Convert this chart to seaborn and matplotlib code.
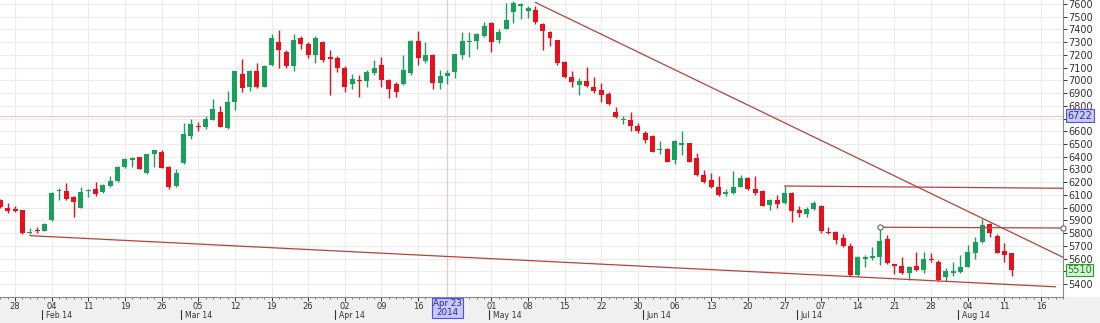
import numpy as np
import pandas as pd
import matplotlib
matplotlib.use("Agg")
import matplotlib.pyplot as plt
import matplotlib.transforms as mtransforms
from matplotlib.patches import Rectangle
import seaborn as sns

# ---------------- data (daily OHLC, Jan 24 2014 .. Aug 12 2014) ----------------
opens = [6060, 6000, 5990, 5980, 5800, 5825, 5820, 5905, 6130, 6130,
         6085, 6000, 6130, 6145, 6120, 6170, 6210, 6320, 6375, 6395,
         6275, 6420, 6440, 6320, 6170, 6350, 6560, 6645, 6630, 6690,
         6750, 6625, 6830, 7050, 6950, 7070, 6950, 7120, 7305, 7225,
         7110, 7330, 7285, 7200, 7305, 7180, 7175, 7095, 6970, 7005,
         6995, 7055, 7120, 7005, 6975, 6970, 7060, 7310, 7155, 7200,
         6980, 7035, 7065, 7200, 7300, 7312, 7350, 7450, 7317, 7405,
         7535, 7580, 7547, 7555, 7440, 7380, 7317, 7145, 7030, 6965,
         6995, 6950, 6925, 6893, 6750, 6685, 6690, 6640, 6585, 6565,
         6450, 6460, 6375, 6495, 6505, 6390, 6255, 6215, 6165, 6110,
         6117, 6165, 6230, 6145, 6133, 6020, 6060, 6040, 6113, 5982,
         5950, 5990, 6010, 5810, 5810, 5760, 5700, 5472, 5600, 5608,
         5615, 5750, 5555, 5545, 5485, 5540, 5510, 5595, 5570, 5452,
         5485, 5498, 5536, 5645, 5733, 5870, 5780, 5660, 5640]
highs = [6070, 6035, 6010, 5985, 5840, 5850, 5880, 6120, 6155, 6195,
         6090, 6165, 6150, 6205, 6185, 6245, 6330, 6390, 6395, 6400,
         6425, 6455, 6450, 6325, 6300, 6665, 6695, 6670, 6720, 6850,
         6800, 6920, 7075, 7165, 7085, 7140, 7120, 7365, 7395, 7240,
         7360, 7345, 7300, 7350, 7310, 7240, 7190, 7110, 7050, 7040,
         7080, 7160, 7180, 7010, 6990, 7200, 7320, 7390, 7305, 7205,
         7080, 7080, 7210, 7380, 7380, 7370, 7460, 7455, 7400, 7605,
         7625, 7610, 7580, 7580, 7450, 7390, 7320, 7150, 7075, 7015,
         7105, 7025, 6980, 6905, 6790, 6720, 6755, 6665, 6600, 6570,
         6520, 6470, 6530, 6600, 6510, 6430, 6295, 6270, 6250, 6150,
         6290, 6260, 6240, 6250, 6140, 6065, 6100, 6170, 6120, 6010,
         6005, 6055, 6020, 5850, 5820, 5790, 5720, 5620, 5630, 5690,
         5845, 5785, 5560, 5615, 5545, 5655, 5655, 5645, 5585, 5525,
         5575, 5628, 5705, 5772, 5910, 5880, 5790, 5720, 5645]
lows = [5995, 5960, 5965, 5795, 5790, 5800, 5815, 5895, 6060, 6060,
        5930, 5995, 6080, 6095, 6115, 6165, 6205, 6310, 6320, 6300,
        6265, 6320, 6310, 6145, 6165, 6345, 6540, 6600, 6620, 6685,
        6630, 6620, 6765, 6910, 6920, 6940, 6945, 7110, 7095, 7095,
        7070, 7250, 7175, 7135, 7145, 6885, 7065, 6910, 6930, 6870,
        6950, 7040, 6945, 6865, 6870, 6960, 7040, 7120, 7140, 6930,
        6930, 6975, 7015, 7170, 7185, 7250, 7340, 7225, 7290, 7400,
        7450, 7485, 7490, 7440, 7235, 7270, 7120, 7015, 6950, 6885,
        6945, 6900, 6830, 6810, 6705, 6660, 6600, 6590, 6510, 6435,
        6425, 6355, 6340, 6415, 6355, 6250, 6195, 6155, 6095, 6090,
        6110, 6160, 6140, 6100, 6010, 5980, 5995, 6030, 5890, 5930,
        5925, 5980, 5800, 5795, 5715, 5690, 5465, 5460, 5535, 5590,
        5550, 5560, 5480, 5480, 5430, 5500, 5490, 5570, 5425, 5425,
        5460, 5490, 5530, 5595, 5725, 5770, 5640, 5575, 5462]
closes = [6005, 5970, 5970, 5800, 5810, 5815, 5875, 6115, 6140, 6065,
          6045, 6125, 6140, 6105, 6180, 6210, 6320, 6380, 6390, 6305,
          6420, 6450, 6315, 6165, 6275, 6580, 6655, 6635, 6695, 6775,
          6635, 6830, 7070, 6940, 7075, 6950, 7110, 7330, 7235, 7110,
          7315, 7285, 7200, 7330, 7160, 7170, 7095, 6950, 7010, 6995,
          7065, 7100, 7005, 6930, 6905, 7080, 7310, 7175, 7200, 6980,
          7035, 7060, 7205, 7310, 7310, 7362, 7430, 7305, 7377, 7475,
          7605, 7600, 7566, 7460, 7390, 7335, 7140, 7025, 6985, 6997,
          6955, 6915, 6885, 6815, 6710, 6695, 6640, 6605, 6535, 6440,
          6458, 6360, 6525, 6505, 6360, 6255, 6205, 6165, 6100, 6120,
          6165, 6235, 6145, 6112, 6015, 6060, 6030, 6113, 5970, 5956,
          5990, 6040, 5820, 5800, 5745, 5700, 5472, 5615, 5615, 5620,
          5740, 5567, 5545, 5485, 5535, 5510, 5595, 5585, 5432, 5502,
          5500, 5536, 5655, 5733, 5864, 5800, 5646, 5628, 5510]

day_tick_labels = ["28", "04", "11", "19", "26", "05", "12", "19", "26", "02",
                   "09", "16", "23", "01", "08", "15", "22", "30", "06", "13",
                   "20", "27", "07", "14", "21", "28", "04", "11", "16"]
month_labels = ["Feb 14", "Mar 14", "Apr 14", "May 14", "Jun 14", "Jul 14", "Aug 14"]
month_first_day = [6, 25, 46, 67, 88, 109, 131]   # bar index of first session

# drawn studies: (start bar, start price, end bar, end price)
support_line = (4, 5780, 144, 5378)
resistance_line = (73, 7612, 145, 5610)
level_6170 = (107, 6170, 145, 6152)
level_5845 = (120, 5846, 145, 5840)
crosshair_bar, crosshair_price, crosshair_label = 61, 6722, "Apr 23\n2014"
last_price = 5510

# ---------------- figure ----------------
sns.set_theme(style="white")
plt.rcParams["font.family"] = ["DejaVu Sans"]

W, H = 1100, 323
fig = plt.figure(figsize=(W / 100, H / 100), dpi=100)
fig.patch.set_facecolor("white")
fig.add_artist(Rectangle((0, 0), 1, 26 / H, transform=fig.transFigure,
                         facecolor="#f0f0f0", edgecolor="none", zorder=-5))
ax = fig.add_axes([0, 26 / H, 1063 / W, 1 - 26 / H])
ax.set_facecolor("white")

df = pd.DataFrame({"open": opens, "high": highs, "low": lows, "close": closes})
df["bar"] = np.arange(len(df))
df["up"] = df["close"] >= df["open"]
green, red = "#18a05c", "#e8111b"
colors = np.where(df["up"], green, red)

# wicks
ax.vlines(df["bar"], df["low"], df["high"], colors=colors, linewidth=1.0, zorder=3)
# bodies
body = (df["close"] - df["open"]).abs().clip(lower=9)
mid = (df["close"] + df["open"]) / 2
ax.bar(df["bar"], body, bottom=mid - body / 2, width=0.68, color=colors,
       linewidth=0, zorder=4)

# crosshair
ax.axhline(crosshair_price, color="#f3c6c6", lw=0.9, zorder=1)
ax.axvline(crosshair_bar, color="#f3c6c6", lw=0.9, zorder=1)

# study lines
line_color = "#b8423c"
for (x0, y0, x1, y1) in [support_line, resistance_line, level_6170, level_5845]:
    sns.lineplot(x=[x0, x1], y=[y0, y1], ax=ax, color=line_color, lw=0.9,
                 zorder=5, clip_on=False, legend=False)
ax.scatter([level_5845[0], level_5845[2]], [level_5845[1], level_5845[3]],
           s=14, facecolor="white", edgecolor="#666666", linewidth=0.8,
           zorder=6, clip_on=False)

# axes limits
ax.set_xlim(-0.05, 145.0)
ax.set_ylim(5298, 7631)

# y axis on the right (labels hidden behind the two price tags)
ax.yaxis.tick_right()
yt = np.arange(5400, 7601, 100)
ax.set_yticks(yt)
hidden = [round(crosshair_price, -2), round(last_price, -2)]
ax.set_yticklabels(["" if v in hidden else str(v) for v in yt])
ax.tick_params(axis="y", which="major", right=True, length=3, width=0.7,
               labelsize=7, pad=1, colors="#333333")

# x axis (label under the crosshair date box is hidden)
xt = [2 + 5 * j for j in range(len(day_tick_labels))]
ax.set_xticks(xt)
ax.set_xticklabels(["" if abs(x - crosshair_bar) < 2.5 else l
                    for x, l in zip(xt, day_tick_labels)])
ax.set_xticks(np.arange(0, 146, 1), minor=True)
ax.tick_params(axis="x", which="major", bottom=True, length=3, width=0.7,
               labelsize=6, pad=0.5, colors="#333333")
ax.tick_params(axis="x", which="minor", bottom=True, length=1.5, width=0.6,
               color="#666666")

ax.grid(True, which="major", color="#ececec", lw=0.8)
ax.set_axisbelow(True)
for s in ["left", "top"]:
    ax.spines[s].set_visible(False)
for s in ["right", "bottom"]:
    ax.spines[s].set_color("#8a8a8a")
    ax.spines[s].set_linewidth(0.8)
ax.set_xlabel("")
ax.set_ylabel("")

# month labels
blend_x = mtransforms.blended_transform_factory(ax.transData, ax.transAxes)
for lab, b in zip(month_labels, month_first_day):
    xb = b - 0.3
    ax.plot([xb, xb], [-0.043, -0.075], transform=blend_x, color="#333333",
            lw=0.8, clip_on=False)
    ax.text(xb + 0.5, -0.061, lab, transform=blend_x, fontsize=5.6,
            color="#333333", ha="left", va="center", clip_on=False)

# crosshair date box
ax.text(crosshair_bar, -0.008, crosshair_label, transform=blend_x, ha="center",
        va="top", fontsize=6.3, color="#2a2aa8", linespacing=0.95, zorder=10,
        clip_on=False,
        bbox=dict(boxstyle="square,pad=0.15", fc="#c8c8ff", ec="#5050f0", lw=0.8))

# price tags
blend_y = mtransforms.blended_transform_factory(ax.transAxes, ax.transData)
ax.text(1.004, crosshair_price, f"{crosshair_price}", transform=blend_y,
        ha="left", va="center", fontsize=7, color="#2a2aa8", zorder=10,
        clip_on=False,
        bbox=dict(boxstyle="square,pad=0.15", fc="#c8c8ff", ec="#5050f0", lw=0.8))
ax.text(1.004, last_price, f"{last_price}", transform=blend_y,
        ha="left", va="center", fontsize=7, color="#1d7a1d", zorder=10,
        clip_on=False,
        bbox=dict(boxstyle="square,pad=0.15", fc="#d4f5d4", ec="#2aa02a", lw=0.8))

fig.savefig("out.png", dpi=100, facecolor=fig.get_facecolor())
